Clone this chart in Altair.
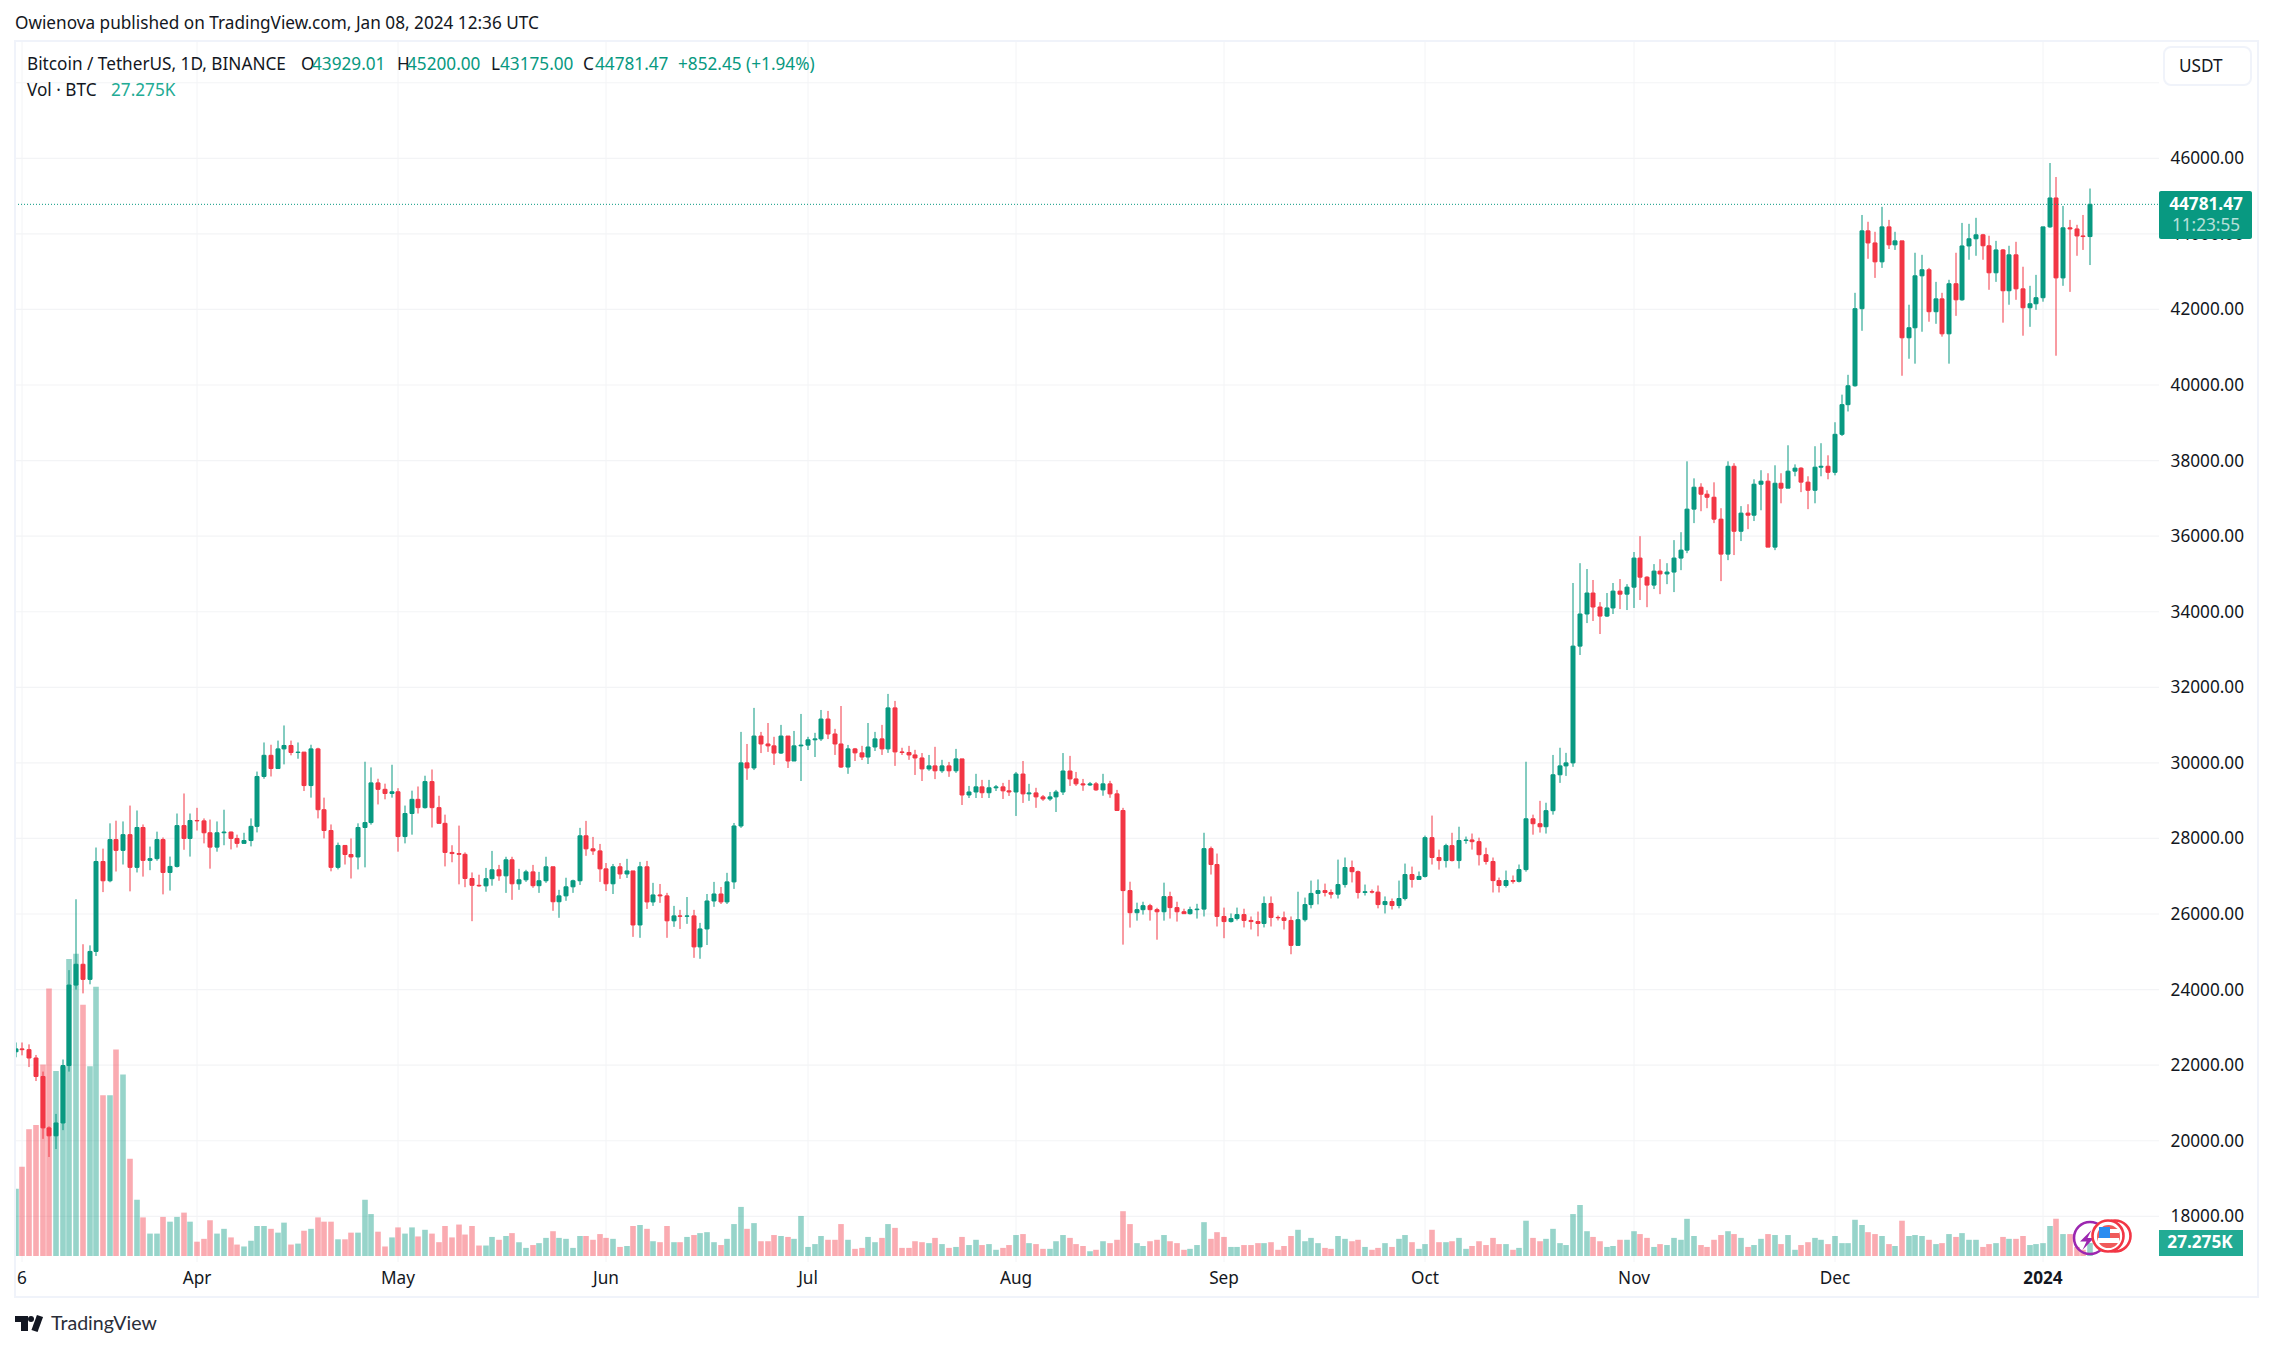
import altair as alt
import pandas as pd

first_open = 22355.0
closes = [
22430,22410,22190,21700,20340,20130,20470,21990,24120,24670,
24270,25010,27390,26880,27970,27685,28100,27235,28290,27420,
27465,27970,27100,27260,28340,28000,28475,28465,28150,27770,
28150,28170,28000,27870,27945,28320,29640,30200,29850,30370,
30460,30275,30285,29400,30370,28760,28210,27235,27815,27575,
27510,28290,28420,29470,29300,29190,29235,28050,28660,29035,
28815,29505,28815,28400,27630,27600,27580,26940,26760,26745,
26935,27170,27010,27435,26800,26905,27115,26750,26880,27250,
26325,26480,26720,26880,28070,27725,27670,27195,26800,27250,
27060,27140,25710,27250,26320,26505,26480,25820,25950,25940,
25950,25130,25605,26345,26530,26320,26850,28330,30000,29865,
30710,30500,30450,30260,30710,30050,30450,30470,30610,30635,
31160,30765,30500,29890,30370,30265,30155,30420,30635,30370,
31455,30290,30275,30210,30130,29840,29920,29790,29920,29790,
30105,29150,29230,29365,29210,29340,29365,29260,29230,29705,
29180,29205,29100,29045,29100,29230,29785,29575,29445,29415,
29445,29285,29445,29180,28740,26620,26035,26115,26220,26115,
26060,26460,26170,26060,26010,26115,26130,27730,27310,25935,
25800,25880,25985,25830,25800,25750,26280,25910,25900,25830,
25170,25850,26250,26545,26620,26570,26525,26780,27230,27120,
26570,26590,26580,26250,26330,26225,26410,27045,26915,26995,
28020,27495,27415,27810,27415,27945,27960,27915,27570,27390,
26885,26755,26885,26865,27175,28520,28390,28310,28735,29685,
29920,30000,33090,33940,34495,34125,33885,34100,34545,34465,
34650,35420,34915,34705,35075,35000,35050,35420,35630,36715,
37295,37110,37030,36450,35525,37850,36130,36610,36555,37375,
37455,35710,37400,37270,37720,37800,37430,37215,37825,37850,
37690,38695,39480,39980,42020,44080,43760,43260,44185,43710,
43815,41250,41515,42890,43050,41940,42280,41355,42680,42255,
43680,43870,43975,43685,42970,43575,42495,43445,42545,42045,
42150,42310,44185,44950,42835,44160,44130,43945,43929.01,44781.47,
]
highs = [
22600,22600,22550,22270,21830,20380,20710,22150,24515,26390,
25200,25170,27760,27730,28400,28470,28450,28870,28740,28370,
27785,28180,28025,27520,28660,29190,28660,28810,28530,28500,
28450,28760,28180,28100,28150,28530,29770,30540,30480,30590,
30990,30590,30540,30285,30480,30400,29080,28370,27890,27815,
28000,28400,30030,29880,29580,29450,29950,29330,28870,29265,
29375,29660,29825,29130,28630,27820,28340,27630,27100,27040,
27220,27670,27300,27515,27515,27195,27170,27300,27115,27515,
27250,26640,26960,26910,28280,28465,28040,27855,27350,27325,
27350,27460,27140,27380,27405,26825,26795,26560,26215,26110,
26450,26110,25765,26530,26850,26715,27090,28410,30820,30500,
31455,30820,31055,30690,31005,30710,30845,31295,30690,30795,
31400,31375,30900,31505,30475,30395,30450,31055,30820,31005,
31825,31640,30400,30450,30345,30260,30210,30425,30080,30025,
30370,30105,29390,29710,29550,29550,29415,29470,29550,29760,
30050,29445,29340,29150,29230,29285,30260,30185,29760,29575,
29495,29495,29710,29525,29285,28810,26855,26300,26325,26270,
26165,26830,26590,26325,26140,26195,26270,28150,27785,27600,
26170,26015,26170,26140,25935,26065,26465,26465,25960,26065,
25935,26590,26435,26885,26915,26805,26650,27440,27495,27415,
27150,26780,26650,26755,26465,26410,26885,27335,27255,27125,
28075,28605,27705,27860,28150,28310,28050,28130,28020,27755,
27495,26965,27150,27020,27310,30030,28630,28995,28945,30210,
30400,30265,34760,35285,35130,34840,34255,34495,34760,34865,
34730,35580,36000,34940,35260,35390,35285,35895,36105,37980,
37530,37400,37215,37425,36740,37980,37930,36795,36845,37505,
37745,37665,37875,37665,38405,37900,37825,37585,38380,38460,
38140,39015,39745,40270,42440,44500,44320,44055,44715,44370,
44055,43815,42125,43500,43445,43100,42730,42440,42785,43500,
44290,44265,44425,44000,43950,43815,43600,43685,43790,43130,
42625,42915,44185,45875,45505,44740,44370,44240,44500,45200,
]
lows = [
22209,22260,21950,21580,20050,19570,19780,20280,21830,24000,
23900,24140,24890,26580,26840,27125,27310,26600,27100,26990,
27160,27410,26520,26620,27230,27700,27520,28210,27870,27200,
27650,27820,27710,27760,27870,27790,28160,29580,29640,29850,
29960,30200,30110,29255,29080,28530,28000,27130,27180,27310,
26940,27180,27235,28365,28900,29035,29080,27650,27870,28100,
28660,28790,28290,28400,27260,27370,26785,26710,25810,26720,
26590,26750,26880,26560,26375,26640,26850,26695,26560,26825,
26085,25900,26350,26560,26770,27540,27565,26850,26610,26530,
26930,26955,25395,25370,26135,26215,26295,25370,25660,25605,
25740,24840,24815,25180,26190,26265,26265,26665,28280,29550,
29810,30260,30290,29945,30235,29865,30050,29520,30340,30155,
30580,30630,30210,29865,29710,30050,30075,29970,30315,30210,
30265,29920,30210,30080,29680,29520,29790,29570,29735,29630,
29735,28885,29070,29070,29070,29070,29255,29045,29125,28595,
28940,28995,28810,28995,28995,28700,29150,29390,29390,29260,
29390,29260,29130,29075,28740,25190,25640,25825,25985,25825,
25320,25825,25880,25800,26010,25985,25880,25935,27045,25670,
25360,25775,25830,25645,25590,25410,25645,25670,25830,25590,
24935,25170,25800,26150,26255,26465,26410,26410,26700,26835,
26410,26490,26545,26150,26015,26120,26150,26360,26700,26915,
26965,27310,27175,27230,27390,27205,27860,27705,27285,27310,
26570,26570,26700,26805,26835,27120,28100,28155,28130,28630,
29470,29655,29895,32855,33700,33755,33410,33860,33940,34070,
34045,34100,34310,34120,34600,34465,34730,34520,35100,35550,
36345,36660,36740,36345,34810,35365,35500,35870,36185,36400,
36685,35710,35630,36870,37270,37585,37165,36715,36870,37585,
37505,37610,38650,39300,39955,41435,43340,42835,43100,43600,
43575,40245,40695,40565,41410,41675,41620,41280,40565,41830,
42230,43315,43420,43315,42520,42730,41650,42125,42255,41305,
41540,41990,42205,44160,40775,42625,42465,43420,43575,43175,
]
volumes = [
141,187,266,275,402,561,388,397,623,634,
527,398,565,337,337,433,381,204,118,81,
47,47,82,72,82,91,72,30,36,75,
47,57,39,24,20,32,63,63,57,49,
70,24,26,53,57,81,72,72,35,35,
49,49,118,88,51,20,39,60,47,60,
41,55,47,29,63,39,66,45,63,22,
22,40,34,42,48,29,17,23,27,38,
52,38,36,17,42,42,34,46,38,36,
19,21,63,65,57,31,29,63,29,29,
40,44,48,50,29,23,36,67,103,57,
69,31,31,44,42,40,36,84,19,25,
42,34,34,67,34,15,17,40,29,38,
67,59,17,17,31,29,27,38,25,17,
19,40,23,34,23,25,13,17,23,44,
46,27,25,15,15,31,44,38,25,21,
10,13,31,27,34,94,67,27,21,31,
34,44,31,27,13,15,23,71,36,50,
40,19,19,23,23,27,27,29,13,21,
42,55,31,38,27,17,15,42,36,31,
34,19,13,17,27,19,36,44,29,15,
25,55,29,29,31,38,15,21,31,23,
38,25,25,13,17,74,38,31,36,57,
27,23,88,107,52,40,31,19,21,34,
34,52,46,38,19,25,23,38,34,78,
42,23,19,34,44,52,46,38,19,23,
36,46,44,25,44,13,23,29,38,34,
25,42,27,27,76,65,50,46,42,25,
21,74,42,44,42,34,25,27,46,40,
48,34,34,19,25,27,40,36,36,42,
23,25,27,63,78,46,46,19,13,27.275,
]
price_ticks = [18000,20000,22000,24000,26000,28000,30000,32000,34000,36000,38000,40000,42000,44000,46000]
grid_prices = price_ticks + [48000]
month_dates = ["2023-03-06","2023-04-01","2023-05-01","2023-06-01","2023-07-01","2023-08-01","2023-09-01","2023-10-01","2023-11-01","2023-12-01","2024-01-01"]
month_labels = ["6","Apr","May","Jun","Jul","Aug","Sep","Oct","Nov","Dec","2024"]
last_price = 44781.47

assert len(closes) == len(highs) == len(lows) == len(volumes) == 310

W, H = 2257, 1325
GREEN, RED = "#089981", "#F23645"
INK = "#131722"
FRAME = "#f0f3fa"
GRID = "#f3f4f6"
FONT = "Noto Sans"
TS = 17.2

opens = [first_open] + closes[:-1]
dates = pd.date_range("2023-03-05", periods=len(closes), freq="D")
rows = [
    {"date": d.strftime("%Y-%m-%dT00:00:00Z"), "open": o, "close": c, "high": h, "low": l, "vol": v,
     "dir": "up" if c >= o else "down"}
    for d, o, c, h, l, v in zip(dates, opens, closes, highs, lows, volumes)
]
data = alt.Data(values=rows)

DAY = 86400000
ms0 = int(pd.Timestamp("2023-03-05", tz="UTC").value / 1e6)
PX_DAY = 6.713
xs = alt.Scale(type="utc", domain=[ms0 - 7.7 / PX_DAY * DAY, ms0 + (W - 7.7) / PX_DAY * DAY], round=True, padding=0)
PX_USD = 0.037786
ys = alt.Scale(domain=[46000 - (H - 150.3) / PX_USD, 46000 + 150.3 / PX_USD], nice=False, zero=False)
PX_K = 1 / 2.098
vs = alt.Scale(domain=[-(H - 1248) / PX_K, 1248 / PX_K], nice=False, zero=False)
cs = alt.Scale(domain=["up", "down"], range=[GREEN, RED])

X = alt.X("date:T", scale=xs, axis=None)
COL = alt.Color("dir:N", scale=cs, legend=None)


def box(x0, x1, y0, y1, **kw):
    return alt.Chart(alt.Data(values=[{"a": 1}])).mark_rect(**kw).encode(
        x=alt.value(x0 - 8), x2=alt.value(x1 - 8), y=alt.value(y0 - 8), y2=alt.value(y1 - 8))


def txt(x, y, s, size=TS, color=INK, align="left", weight="normal", font=FONT, opacity=1):
    return alt.Chart(alt.Data(values=[{"t": s}])).mark_text(
        align=align, baseline="middle", fontSize=size, color=color, fontWeight=weight, font=font, opacity=opacity
    ).encode(x=alt.value(x - 8), y=alt.value(y - 8), text="t:N")


def dot(x, y, d, **kw):
    return alt.Chart(alt.Data(values=[{"a": 1}])).mark_point(shape="circle", size=d * d, **kw).encode(
        x=alt.value(x - 8), y=alt.value(y - 8))


grid_h = alt.Chart(alt.Data(values=[{"p": p} for p in grid_prices])).mark_rule(color=GRID, strokeWidth=1.2).encode(
    y=alt.Y("p:Q", scale=ys, axis=None), x=alt.value(7), x2=alt.value(2151))
month_rows = [{"date": d + "T00:00:00Z", "label": l, "bold": l == "2024"} for d, l in zip(month_dates, month_labels)]
grid_v = alt.Chart(alt.Data(values=month_rows)).mark_rule(color=GRID, strokeWidth=1).encode(
    x=X, y=alt.value(33), y2=alt.value(1254))
vol = alt.Chart(data).mark_bar(size=5.6, opacity=0.42).encode(
    x=X, y=alt.Y("vol:Q", scale=vs, axis=None), y2=alt.Y2(datum=0), color=COL)
wick = alt.Chart(data).mark_rule(strokeWidth=1).encode(
    x=X, y=alt.Y("high:Q", scale=ys, axis=None), y2="low:Q", color=COL)
body = alt.Chart(data).mark_bar(size=4, strokeWidth=1).encode(
    x=X, y=alt.Y("open:Q", scale=ys, axis=None), y2="close:Q", color=COL, stroke=alt.Stroke("dir:N", scale=cs, legend=None))
last_line = alt.Chart(alt.Data(values=[{"p": last_price}])).mark_rule(color=GREEN, strokeWidth=1, strokeDash=[1, 2]).encode(
    y=alt.Y("p:Q", scale=ys, axis=None), x=alt.value(7), x2=alt.value(2151))

price_labels = alt.Chart(alt.Data(values=[{"p": p, "t": f"{p:.2f}"} for p in price_ticks])).mark_text(
    align="right", baseline="middle", fontSize=TS, color=INK, font=FONT, dy=1
).encode(y=alt.Y("p:Q", scale=ys, axis=None), x=alt.value(2244 - 8), text="t:N")
time_labels = alt.Chart(alt.Data(values=[r for r in month_rows if not r["bold"]])).mark_text(
    baseline="middle", fontSize=TS, color=INK, font=FONT
).encode(x=X, y=alt.value(1279 - 8), text="label:N")
time_bold = alt.Chart(alt.Data(values=[r for r in month_rows if r["bold"]])).mark_text(
    baseline="middle", fontSize=TS, color=INK, font=FONT, fontWeight="bold"
).encode(x=X, y=alt.value(1279 - 8), text="label:N")

layers = [
    grid_h, grid_v, vol, wick, body, last_line,
    box(0, 16, 40, 1298, fill="white"),
    box(15, 2258, 41, 1297, fill="transparent", stroke=FRAME, strokeWidth=2),
    price_labels, time_labels, time_bold,
    box(2164, 2251, 47, 85, fill="white", stroke=FRAME, strokeWidth=2, cornerRadius=7),
    txt(2179, 67, "USDT"),
    box(2159, 2252, 191, 239, fill=GREEN, cornerRadius=2),
    txt(2206, 205, "44781.47", color="white", align="center", weight="bold"),
    txt(2206, 226, "11:23:55", color="white", align="center", opacity=0.7),
    box(2159, 2243, 1230, 1256, fill="#22ab94"),
    txt(2200, 1243, "27.275K", color="white", align="center", weight="bold"),
    txt(15, 24, "Owienova published on TradingView.com, Jan 08, 2024 12:36 UTC"),
    txt(27, 65, "Bitcoin / TetherUS, 1D, BINANCE"),
    txt(301, 65, "O"), txt(312, 65, "43929.01", color=GREEN),
    txt(397, 65, "H"), txt(407, 65, "45200.00", color=GREEN),
    txt(491, 65, "L"), txt(500, 65, "43175.00", color=GREEN),
    txt(583, 65, "C"), txt(595, 65, "44781.47", color=GREEN),
    txt(678, 65, "+852.45 (+1.94%)", color=GREEN),
    txt(27, 91, "Vol · BTC"), txt(111, 91, "27.275K", color="#22ab94"),
    # event icons
    dot(2090, 1238, 32, filled=False, color="#9c27b0", strokeWidth=2.6, opacity=1),
    alt.Chart(alt.Data(values=[{"a": 1}])).mark_point(
        shape="M0.45,-1 L-0.7,0.15 L-0.05,0.15 L-0.45,1 L0.7,-0.2 L0.05,-0.2 Z",
        size=400, filled=True, color="#9c27b0", opacity=1
    ).encode(x=alt.value(2087 - 8), y=alt.value(1240 - 8)),
    dot(2115, 1236, 31, filled=True, color="white", opacity=1),
    dot(2115, 1236, 31, filled=False, color=RED, strokeWidth=2.6, opacity=1),
    dot(2108, 1236, 31, filled=True, color="white", opacity=1),
    dot(2108, 1236, 31, filled=False, color=RED, strokeWidth=2.6, opacity=1),
    dot(2108.5, 1236.5, 23, filled=True, color="#f05a5a", opacity=1),
    box(2110, 2119, 1229, 1233, fill="white"),
    box(2098, 2119, 1238, 1243, fill="white"),
    box(2099, 2110, 1227, 1238, fill="#2a8cf0"),
    # TradingView logo
    box(15, 28, 1316, 1322, fill=INK),
    box(21, 28, 1322, 1331, fill=INK),
    dot(31, 1319, 6, filled=True, color=INK, opacity=1),
    alt.Chart(alt.Data(values=[{"a": 1}])).mark_rule(color=INK, strokeWidth=6.5).encode(
        x=alt.value(40 - 8), x2=alt.value(34.5 - 8), y=alt.value(1316 - 8), y2=alt.value(1331 - 8)),
    txt(51, 1324, "TradingView", size=19.6, color="#2a2e39", font="Lato"),
]

chart = (
    alt.layer(*layers)
    .resolve_scale(y="independent")
    .properties(width=W, height=H, padding=0, autosize=alt.AutoSizeParams(type="none"), background="white")
    .configure_view(stroke=None)
)
chart.save("out.html", embed_options={"renderer": "svg", "actions": False})
